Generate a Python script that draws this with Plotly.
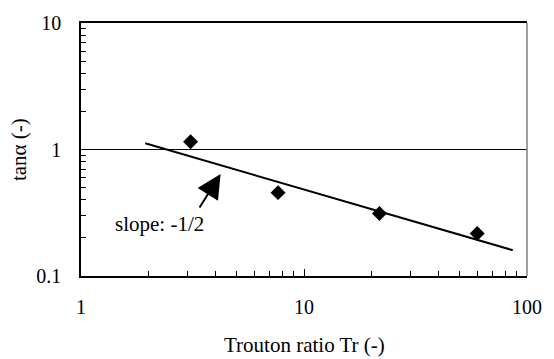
import plotly.graph_objects as go

# Data
tr_values = [3.1, 7.65, 21.8, 59.8]
tan_alpha = [1.15, 0.456, 0.312, 0.217]
fit_x = [1.94, 86.3]
fit_y = [1.12, 0.16]
x_ticks = [1, 10, 100]
x_ticklabels = ["1", "10", "100"]
y_ticks = [0.1, 1, 10]
y_ticklabels = ["0.1", "1", "10"]
x_minor = [2, 3, 4, 5, 6, 7, 8, 9, 20, 30, 40, 50, 60, 70, 80, 90]
y_minor = [0.2, 0.3, 0.4, 0.5, 0.6, 0.7, 0.8, 0.9, 2, 3, 4, 5, 6, 7, 8, 9]

FONT = "Liberation Serif"
FS = 20

fig = go.Figure()
fig.add_trace(go.Scatter(x=fit_x, y=fit_y, mode="lines",
                         line=dict(color="black", width=2), showlegend=False))
fig.add_trace(go.Scatter(x=tr_values, y=tan_alpha, mode="markers",
                         marker=dict(symbol="diamond", size=11.5, color="black"),
                         showlegend=False))

fig.update_layout(
    width=554, height=359,
    margin=dict(l=81, r=16, t=18, b=83),
    paper_bgcolor="white", plot_bgcolor="white",
    font=dict(family=FONT, size=FS, color="black"),
    xaxis=dict(type="log", range=[0, 2], tickmode="array", tickvals=x_ticks,
               ticktext=x_ticklabels, ticks="inside", ticklen=7, tickcolor="black",
               showline=True, linecolor="black", linewidth=1.5, mirror=True,
               showgrid=False, zeroline=False, ticklabelstandoff=12,
               tickfont=dict(family=FONT, size=FS),
               minor=dict(tickmode="array", tickvals=x_minor, ticks="inside",
                          ticklen=5, tickcolor="black", showgrid=False)),
    yaxis=dict(type="log", range=[-1, 1], tickmode="array", tickvals=y_ticks,
               ticktext=y_ticklabels, ticks="inside", ticklen=7, tickcolor="black",
               showline=True, linecolor="black", linewidth=1.5, mirror=False,
               showgrid=True, gridcolor="black", gridwidth=1, zeroline=False,
               ticklabelstandoff=14, tickfont=dict(family=FONT, size=FS),
               minor=dict(tickmode="array", tickvals=y_minor, ticks="inside",
                          ticklen=5, tickcolor="black", showgrid=False)),
)

# right border (grey)
fig.add_shape(type="line", xref="paper", yref="paper", x0=1, x1=1, y0=0, y1=1,
              line=dict(color="#808080", width=1.5))

# axis titles
fig.add_annotation(text="Trouton ratio Tr (-)", xref="paper", yref="paper",
                   x=0.5, y=-0.271, xanchor="center", yanchor="middle",
                   showarrow=False, font=dict(family=FONT, size=21))
fig.add_annotation(text="tanα (-)", xref="paper", yref="paper",
                   x=-0.14, y=0.5, xanchor="center", yanchor="middle",
                   textangle=-90, showarrow=False, font=dict(family=FONT, size=21))

# slope annotation
fig.add_annotation(text="slope: -1/2", x=0.35, y=-0.589, xref="x", yref="y",
                   showarrow=False, xanchor="center", yanchor="middle",
                   font=dict(family=FONT, size=21))
fig.add_annotation(text="", x=0.626, y=-0.194, xref="x", yref="y",
                   showarrow=True, ax=-22, ay=35, arrowhead=2, arrowsize=2.4,
                   arrowwidth=2, arrowcolor="black")

fig.write_html("out.html")
